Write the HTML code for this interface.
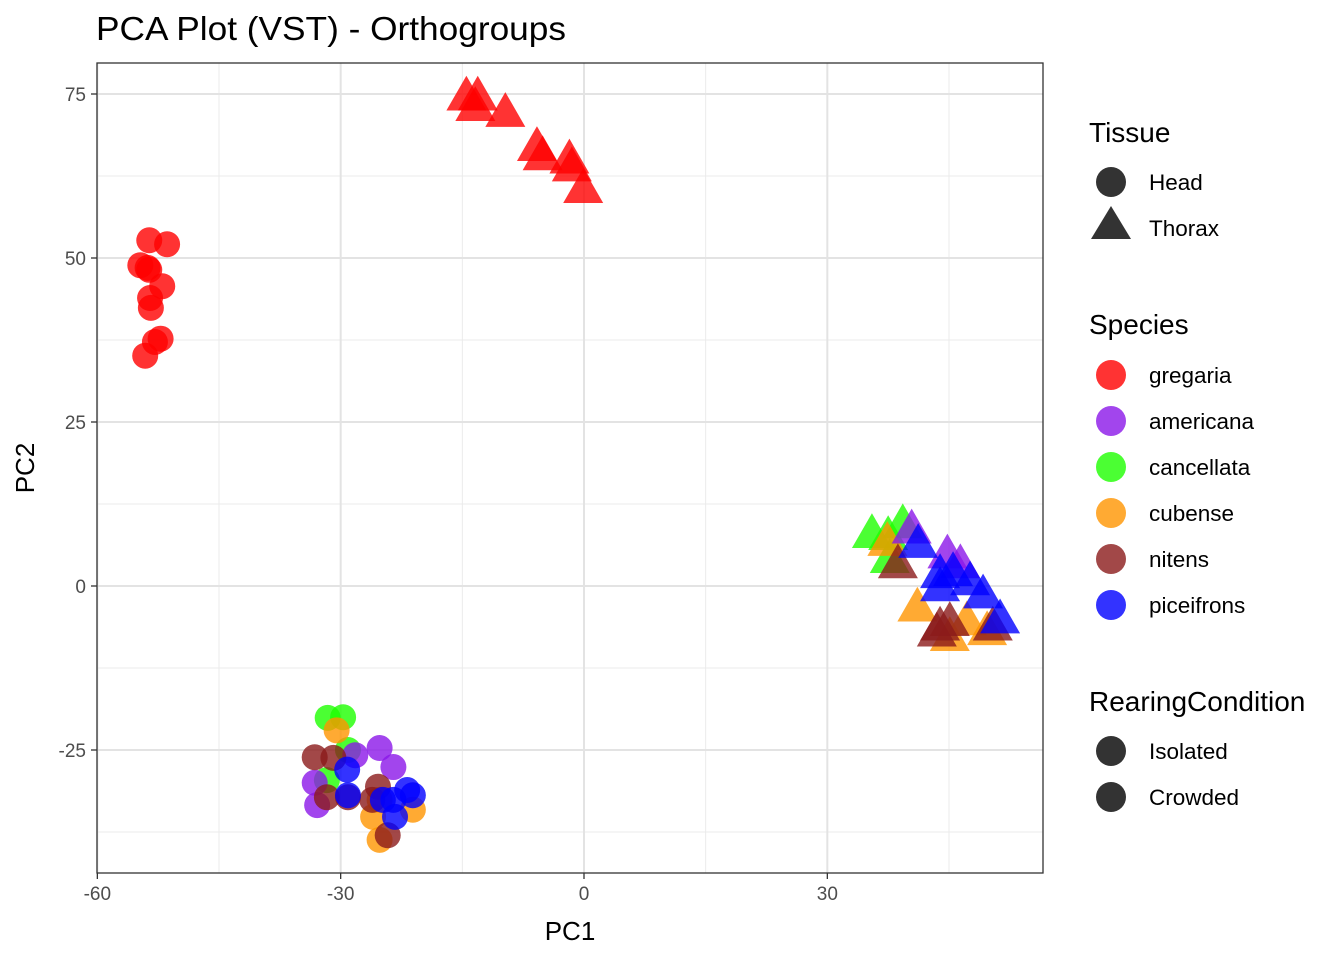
<!DOCTYPE html>
<html><head><meta charset="utf-8"><style>
body{margin:0;background:#fff;font-family:"Liberation Sans",Arial,sans-serif;}
svg text{font-family:"Liberation Sans",Arial,sans-serif;}
</style></head><body>
<svg id="chart" width="1344" height="960" xmlns="http://www.w3.org/2000/svg">
<rect width="1344" height="960" fill="#fff"/>
<text x="96" y="40" font-size="33" fill="#000" textLength="470" lengthAdjust="spacingAndGlyphs">PCA Plot (VST) - Orthogroups</text>
<g id="grid"></g>
<g id="marks"></g>
<rect x="97" y="63" width="946" height="810" fill="none" stroke="#333" stroke-width="1.3"/>
<g id="axes"></g>
<text x="570" y="940" font-size="26" text-anchor="middle">PC1</text>
<text transform="translate(34,468) rotate(-90)" font-size="26" text-anchor="middle">PC2</text>
<g id="legend"></g>
</svg>
<script>
const xTicks=[-60,-30,0,30];
const yTicks=[-25,0,25,50,75];
const speciesNames=["gregaria","americana","cancellata","cubense","nitens","piceifrons"];
const speciesColors=["#ff0000","#8b16e8","#1eff00","#ff9500","#8b1a1a","#0000ff"];
const headPC1=[-54.7,-53.6,-51.4,-53.8,-52.0,-53.5,-53.4,-52.9,-52.2,-54.1,-53.6,
 -31.6,-29.7,-29.1,-31.7,
 -30.5,-25.2,-25.2,-21.1,-26.0,
 -25.2,-23.5,-32.9,-33.2,-28.2,
 -33.2,-30.9,-31.7,-25.4,-26.1,-24.2,-29.1,
 -29.2,-29.1,-23.5,-21.8,-21.1,-23.3,-24.8];
const headPC2=[48.9,52.7,52.1,48.5,45.7,43.9,42.4,37.2,37.7,35.1,48.2,
 -20.1,-20.0,-25.0,-29.6,
 -22.0,-32.6,-38.7,-34.1,-35.2,
 -24.7,-27.6,-33.4,-30.0,-25.8,
 -26.1,-26.2,-32.2,-30.6,-32.6,-38.0,-32.2,
 -28.0,-31.9,-32.6,-31.1,-31.9,-35.2,-32.6];
const headSpecies=[0,0,0,0,0,0,0,0,0,0,0,2,2,2,2,3,3,3,3,3,1,1,1,1,1,4,4,4,4,4,4,4,5,5,5,5,5,5,5];
const thoraxPC1=[-14.5,-13.1,-13.4,-9.7,-5.8,-5.1,-1.8,-1.5,-0.1,
 35.5,39.3,37.5,37.7,
 37.4,41.1,45.1,49.7,47.2,
 40.4,44.8,46.4,
 38.7,43.5,43.9,50.4,45.1,
 41.2,43.9,45.5,47.6,49.2,51.3,43.9];
const thoraxPC2=[74.5,74.5,72.9,72.0,66.8,65.4,64.9,63.7,60.4,
 7.8,9.3,7.5,4.0,
 6.6,-3.4,-7.9,-7.0,-5.5,
 8.5,4.7,3.2,
 3.2,-7.2,-6.3,-6.3,-5.6,
 6.3,1.7,2.0,0.6,-1.4,-5.2,-0.3];
const thoraxSpecies=[0,0,0,0,0,0,0,0,0,2,2,2,2,3,3,3,3,3,1,1,1,4,4,4,4,4,5,5,5,5,5,5,5];

const NS="http://www.w3.org/2000/svg";
const X=v=>584+v*8.111;
const Y=v=>586-v*6.56;
function mk(tag,attrs,parent){const e=document.createElementNS(NS,tag);for(const k in attrs)e.setAttribute(k,attrs[k]);parent.appendChild(e);return e;}
const grid=document.getElementById('grid'),axes=document.getElementById('axes'),marks=document.getElementById('marks'),legend=document.getElementById('legend');
for(let i=0;i<xTicks.length;i++){const m=xTicks[i]+15;if(X(m)<1043){const l=mk('line',{x1:X(m),x2:X(m),y1:63,y2:873,stroke:'#ebebeb','stroke-width':1},grid);}}
for(let i=0;i<yTicks.length;i++){const m=yTicks[i]-12.5;const l=mk('line',{x1:97,x2:1043,y1:Y(m),y2:Y(m),stroke:'#ebebeb','stroke-width':1},grid);}
xTicks.forEach(t=>{const l=mk('line',{x1:X(t),x2:X(t),y1:63,y2:873,stroke:'#e3e3e3','stroke-width':2},grid);
 const tk=mk('line',{x1:X(t),x2:X(t),y1:873,y2:879,stroke:'#333','stroke-width':1.3},axes);
 const tx=mk('text',{x:X(t),y:900,'font-size':19,'text-anchor':'middle',fill:'#4d4d4d'},axes);tx.textContent=t;});
yTicks.forEach(t=>{const l=mk('line',{x1:97,x2:1043,y1:Y(t),y2:Y(t),stroke:'#e3e3e3','stroke-width':2},grid);
 const tk=mk('line',{x1:91,x2:97,y1:Y(t),y2:Y(t),stroke:'#333','stroke-width':1.3},axes);
 const tx=mk('text',{x:86,y:Y(t)+7,'font-size':19,'text-anchor':'end',fill:'#4d4d4d'},axes);tx.textContent=t;});
function tri(cx,cy,s){const h=s*0.87;return `${cx},${cy-h*0.62} ${cx-s/2},${cy+h*0.38} ${cx+s/2},${cy+h*0.38}`;}
for(let i=0;i<headPC1.length;i++){const c=mk('circle',{cx:X(headPC1[i]),cy:Y(headPC2[i]),r:13,fill:speciesColors[headSpecies[i]],'fill-opacity':0.8},marks);
 }
for(let i=0;i<thoraxPC1.length;i++){const p=mk('polygon',{points:tri(X(thoraxPC1[i]),Y(thoraxPC2[i]),40),fill:speciesColors[thoraxSpecies[i]],'fill-opacity':0.8},marks);
 }
function ltitle(t,y){const e=mk('text',{x:1089,y:y,'font-size':28},legend);e.textContent=t;}
function llabel(t,y){const e=mk('text',{x:1149,y:y+8,'font-size':22.5},legend);e.textContent=t;}
ltitle('Tissue',142);
let c=mk('circle',{cx:1111,cy:182,r:15,fill:'#333'},legend);llabel('Head',182);
let p=mk('polygon',{points:'1111,206 1091,239 1131,239',fill:'#333'},legend);llabel('Thorax',228);
ltitle('Species',334);
speciesNames.forEach((n,i)=>{const y=375+i*46;const e=mk('circle',{cx:1111,cy:y,r:15,fill:speciesColors[i],'fill-opacity':0.8},legend);llabel(n,y);});
ltitle('RearingCondition',711);
['Isolated','Crowded'].forEach((n,i)=>{const y=751+i*46;const e=mk('circle',{cx:1111,cy:y,r:15,fill:'#333'},legend);llabel(n,y);});
</script>
</body></html>
